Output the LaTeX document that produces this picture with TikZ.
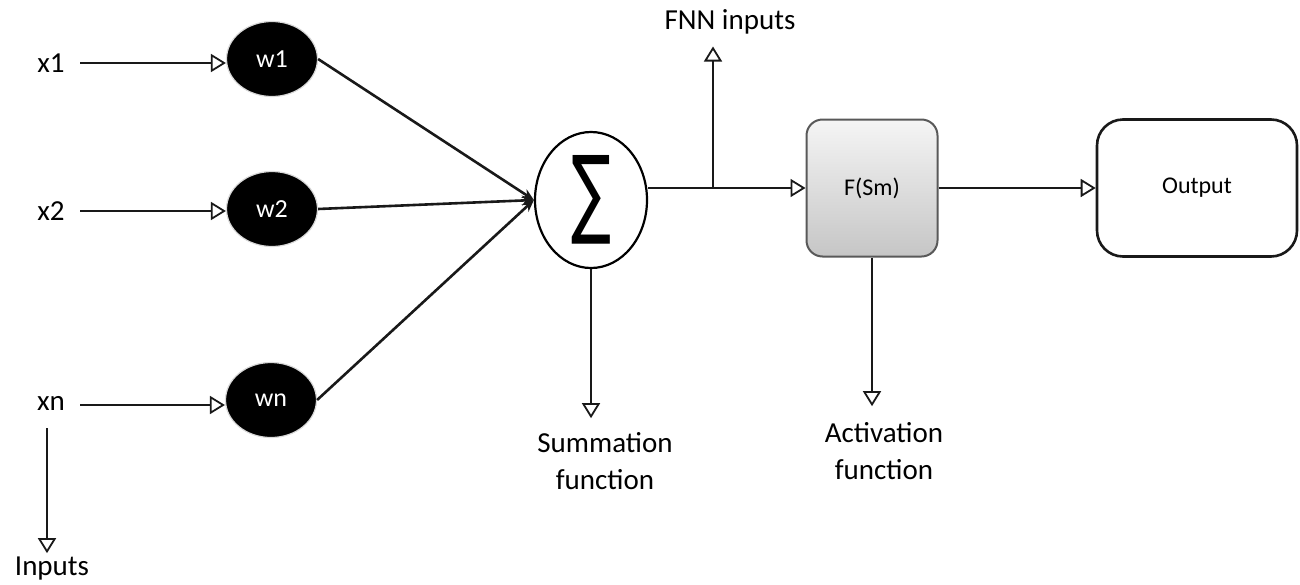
\documentclass[tikz,border=0pt]{standalone}
\usepackage{fontspec}
\usepackage{graphicx}
\setmainfont{Carlito}
\newfontfamily\symbolfont{DejaVu Sans}
\usetikzlibrary{arrows.meta,shapes.geometric,positioning}

\tikzset{
  wire/.style={line width=2.6pt, draw=black!90},
  opentip/.style={wire, -{Triangle[open,length=15pt,width=18pt,line width=1.8pt]}},
  sumtip/.style={wire, -{Stealth[length=12pt,width=10pt]}},
  label/.style={font=\fontsize{29}{37}\selectfont, text=black, align=center, inner sep=0pt},
  weight/.style={ellipse, fill=black, draw=gray!30, line width=1.2pt,
    minimum width=91pt, minimum height=75pt, text=white, inner sep=0pt,
    font=\fontsize{26}{30}\selectfont},
  sumnode/.style={ellipse, draw=black, line width=2.2pt, fill=white,
    minimum width=112pt, minimum height=136pt, inner sep=0pt},
  actbox/.style={rectangle, rounded corners=16pt, draw=black!65, line width=2pt,
    top color=gray!8, bottom color=gray!45, minimum width=131pt, minimum height=137pt,
    font=\fontsize{24}{28}\selectfont, inner sep=0pt},
  outbox/.style={rectangle, rounded corners=26pt, draw=black!90, line width=2.6pt,
    fill=white, minimum width=200pt, minimum height=137pt,
    font=\fontsize{24}{28}\selectfont, inner sep=0pt}
}

\begin{document}
\begin{tikzpicture}[x=1pt,y=-1pt]
  \useasboundingbox (0,0) rectangle (1300,584);

  % inputs
  \node[label] (x1) at (51,63) {x1};
  \node[label] (x2) at (51,211) {x2};
  \node[label] (xn) at (51,403) {xn};
  \node[label] (inp) at (52,569) {Inputs};

  % weights
  \node[weight] (w1) at (272,59) {w1};
  \node[weight] (w2) at (272,209) {w2};
  \node[weight] (wn) at (271,400) {wn};

  % summation, activation and output
  \node[sumnode] (sum) at (591,200) {};
  \node (sigma) at (sum.center) {\resizebox{40pt}{70pt}{\symbolfont ∑}};
  \node[actbox] (act) at (872,188) {F(Sm)};
  \node[outbox] (out) at (1197,188) {Output};

  % free labels
  \node[label] (fnn) at (730,22) {FNN inputs};
  \node[label] (sumlbl) at (605,461) {Summation\\function};
  \node[label] (actlbl) at (884,451) {Activation\\function};

  % junction on the summation output
  \coordinate (br) at (713,188);
  \coordinate (sumout) at (sum.east |- br);
  \coordinate (xns) at (47,428);

  % input connectors
  \draw[opentip] (80,63) coordinate (x1e) -- (w1.west |- x1e);
  \draw[opentip] (80,211) coordinate (x2e) -- (w2.west |- x2e);
  \draw[opentip] (80,405) coordinate (xne) -- (wn.west |- xne);
  \draw[opentip] (xns) -- ([yshift=4pt]inp.north -| xns);

  % weights into the sum
  \draw[sumtip] (w1.east) -- (sum.west);
  \draw[sumtip] (w2.east) -- (sum.west);
  \draw[sumtip] (wn.east) -- (sum.west);

  % sum to activation, branch to FNN inputs
  \draw[opentip] (sumout) -- (act.west |- sumout);
  \draw[opentip] (br) -- ([yshift=-12pt]fnn.south -| br);
  \draw[opentip] (act.east |- br) -- (out.west |- br);

  % downward labels
  \draw[opentip] (sum.south) -- ([yshift=14pt]sumlbl.north -| sum.south);
  \draw[opentip] (act.south) -- ([yshift=16pt]actlbl.north -| act.south);
\end{tikzpicture}
\end{document}
